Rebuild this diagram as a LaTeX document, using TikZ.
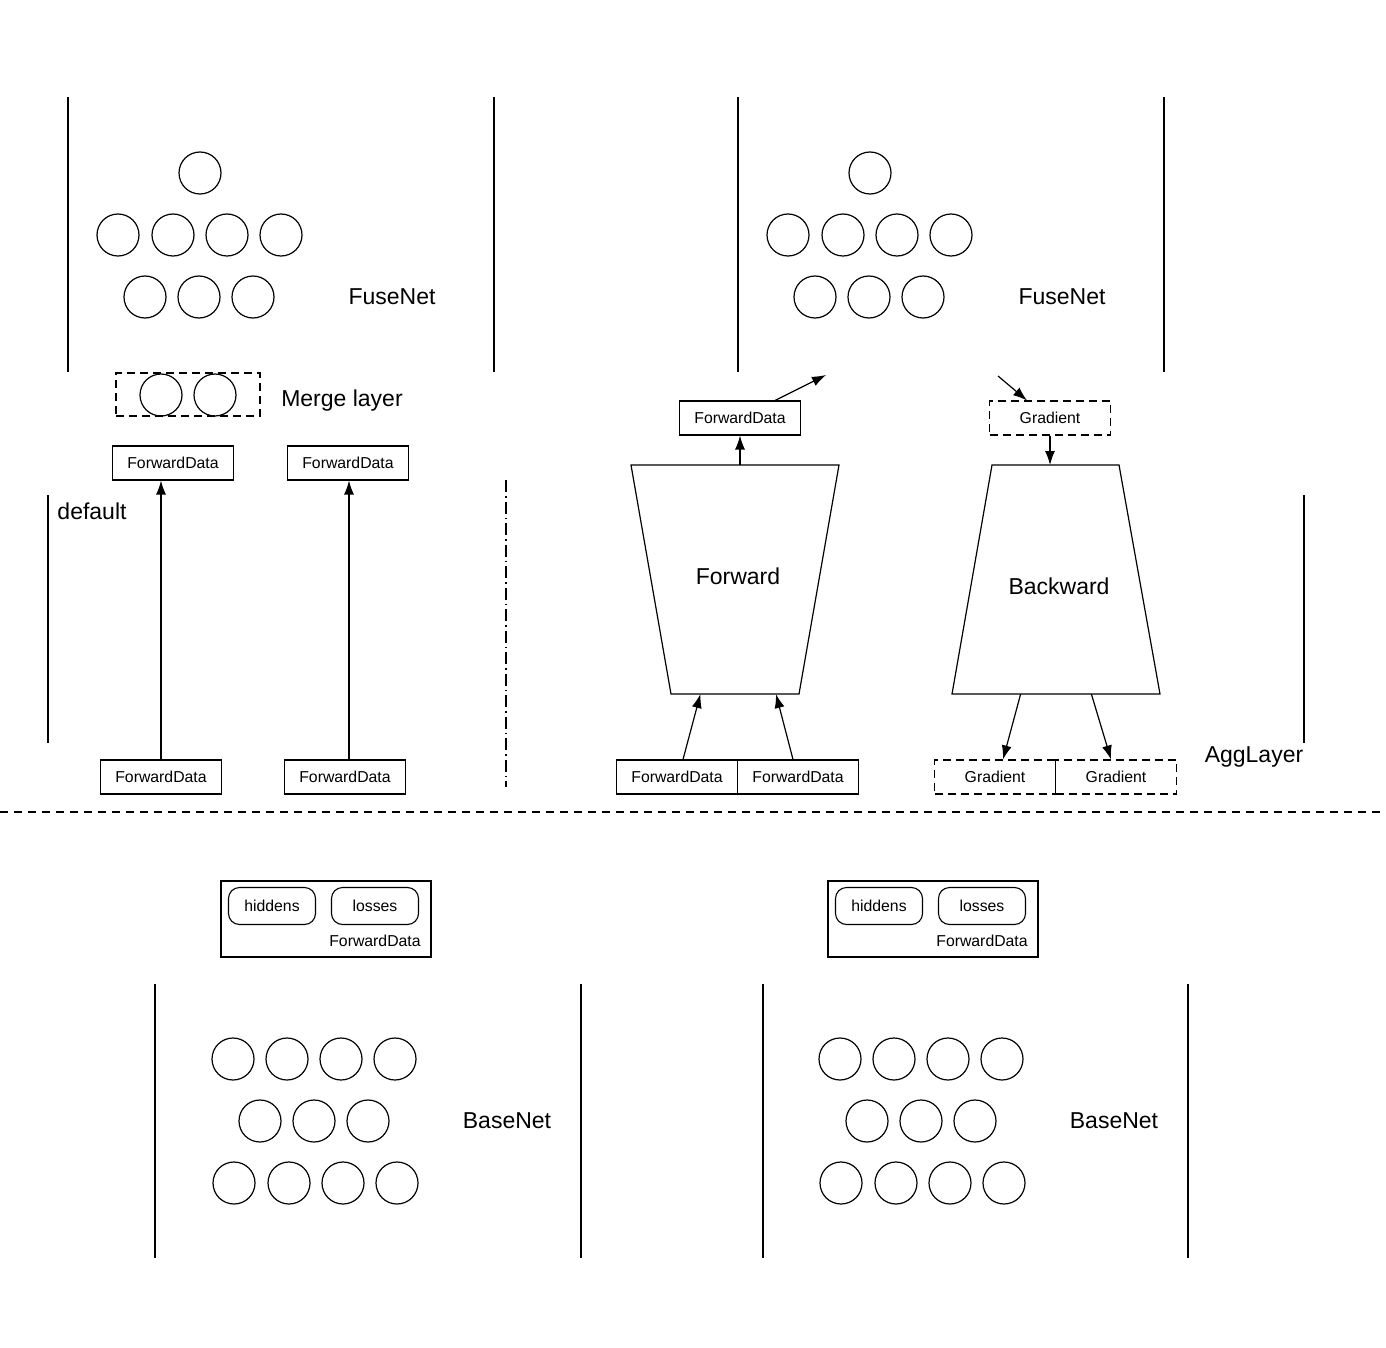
\documentclass[tikz,border=0pt]{standalone}
\usepackage{fontspec}
\setmainfont{Liberation Sans}
\usetikzlibrary{calc,arrows.meta}

\begin{document}
\begin{tikzpicture}[
    x=1pt, y=-1pt,
    unit/.style={
        draw,
        circle,
        minimum size=42pt,
        inner sep=0pt,
        line width=1.2pt
    },
    databox/.style={
        draw,
        minimum width=121pt,
        minimum height=34pt,
        inner sep=0pt,
        line width=1.1pt,
        font=\fontsize{15.8}{18}\selectfont
    },
    gradbox/.style={
        databox,
        dash pattern=on 8pt off 5pt
    },
    field/.style={
        draw,
        rounded corners=11pt,
        minimum width=87pt,
        minimum height=37pt,
        inner sep=0pt,
        line width=1.1pt,
        font=\fontsize{15.8}{18}\selectfont
    },
    title/.style={
        font=\fontsize{23}{26}\selectfont
    },
    wall/.style={line width=1.2pt},
    every path/.style={line width=1.2pt},
    >={Latex[length=14pt,width=10pt]}
    ]

\useasboundingbox (0,0) rectangle (1386,1348);

\foreach \x in {68,494,738,1164}
    \draw[wall] (\x,97) -- (\x,372);
\foreach \x in {155,581,763,1188}
    \draw[wall] (\x,984) -- (\x,1258);
\draw[wall] (48,495) -- (48,743);
\draw[wall] (1304,495) -- (1304,743);

\foreach \s/\dx in {a/0,b/670}
{
    \node[unit] (fuse\s-top) at (200+\dx,173) {};
    \foreach \x [count=\i] in {118,173,227,281}
        \node[unit] (fuse\s-m\i) at (\x+\dx,235) {};
    \foreach \x [count=\i] in {145,199,253}
        \node[unit] (fuse\s-b\i) at (\x+\dx,297) {};
    \node[title] (fuse\s-lbl) at (392+\dx,297) {FuseNet};
}

\foreach \s/\dx in {a/0,b/607}
{
    \foreach \x [count=\i] in {233,287,341,395}
        \node[unit] (base\s-t\i) at (\x+\dx,1059) {};
    \foreach \x [count=\i] in {260,314,368}
        \node[unit] (base\s-m\i) at (\x+\dx,1121) {};
    \foreach \x [count=\i] in {234,289,343,397}
        \node[unit] (base\s-b\i) at (\x+\dx,1183) {};
    \node[title] (base\s-lbl) at (507+\dx,1121) {BaseNet};
    \node[draw, minimum width=210pt, minimum height=76pt] (pack\s) at (326+\dx,919) {};
    \node[field] (hid\s) at (272+\dx,906) {hiddens};
    \node[field] (los\s) at (375+\dx,906) {losses};
    \node[font=\fontsize{15.8}{18}\selectfont] (pack\s-lbl) at (375+\dx,941) {ForwardData};
}

\node[draw, dash pattern=on 8pt off 5pt, minimum width=144pt, minimum height=43pt] (merge) at (188,394.5) {};
\node[unit] (merge-1) at (161,395) {};
\node[unit] (merge-2) at (215,395) {};
\node[title] (merge-lbl) at (342,401) {Merge layer};

\node[databox] (dtL) at (173,463) {ForwardData};
\node[databox] (dtR) at (348,463) {ForwardData};
\node[databox] (dfL) at (161,777) {ForwardData};
\node[databox] (dfR) at (345,777) {ForwardData};
\draw[->] (dfL.north) -- (dfL.north |- dtL.south);
\draw[->] ($(dtR.south |- dfR.north)+(1,0)$) -- ($(dtR.south)+(1,0)$);
\node[title] (dflt) at (92,511) {default};

\draw[dash pattern=on 12pt off 4pt on 1.5pt off 4pt] (506,480) -- (506,787);

\coordinate (fw-tl) at (631,465);
\coordinate (fw-tr) at (839,465);
\coordinate (fw-br) at (799,694);
\coordinate (fw-bl) at (671,694);
\draw (fw-tl) -- (fw-tr) -- (fw-br) -- (fw-bl) -- cycle;
\node[title] (fw) at (738,576) {Forward};

\coordinate (bw-tl) at (992,465);
\coordinate (bw-tr) at (1119,465);
\coordinate (bw-br) at (1160,694);
\coordinate (bw-bl) at (952,694);
\draw (bw-tl) -- (bw-tr) -- (bw-br) -- (bw-bl) -- cycle;
\node[title] (bw) at (1059,586) {Backward};

\node[databox] (fdT) at (740,418) {ForwardData};
\node[gradbox] (grT) at (1050,418) {Gradient};
\node[databox] (fdL) at (677,777) {ForwardData};
\node[databox] (fdR) at (798,777) {ForwardData};
\node[gradbox] (grL) at (995,777) {Gradient};
\node[gradbox] (grR) at (1116,777) {Gradient};
\node[title] (agg) at (1254,757) {AggLayer};

\coordinate (fuseIn) at (826,375);
\coordinate (fuseOut) at (998,376);
\draw[->] (fdT.south |- fw-tl) -- (fdT.south);
\draw[->] ($(fdT.north)+(35,0)$) -- (fuseIn);
\draw[->] (fuseOut) -- ($(grT.north)+(-23,0)$);
\draw[->] (grT.south) -- (grT.south |- bw-tl);
\draw[->] ($(fdL.north)+(6,0)$) -- ($(fw-bl)!0.23!(fw-br)$);
\draw[->] ($(fdR.north)+(-5,0)$) -- ($(fw-bl)!0.82!(fw-br)$);
\draw[->] ($(bw-bl)!0.33!(bw-br)$) -- ($(grL.north)+(8,0)$);
\draw[->] ($(bw-bl)!0.67!(bw-br)$) -- ($(grR.north)+(-5,0)$);

\draw[dash pattern=on 8pt off 6pt] (0,812) -- (1386,812);
\end{tikzpicture}
\end{document}
